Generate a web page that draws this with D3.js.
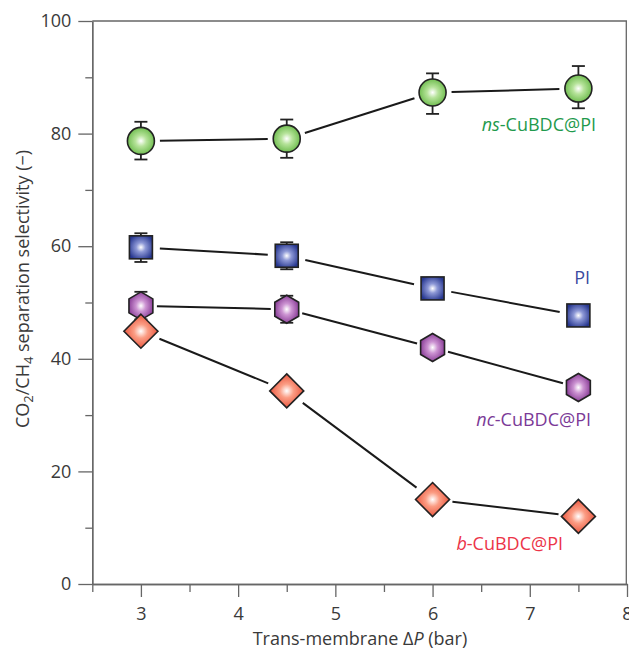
<!DOCTYPE html>
<html>
<head>
<meta charset="utf-8">
<script src="https://d3js.org/d3.v7.min.js"></script>
<style>
  body { margin: 0; background: #fff; }
  text { font-family: 'Open Sans', sans-serif; }
  .axis text { font-size: 18px; fill: #3a3a3a; }
  .axis line, .axis path { stroke: #666; stroke-width: 1.3; }
</style>
</head>
<body>
<script>
// data
var pressure = [3, 4.5, 6, 7.5];
var nsSel = [78.7, 79.1, 87.3, 88.0];
var nsLow = [75.4, 75.7, 83.5, 84.5];
var nsHigh = [82.1, 82.5, 90.7, 92.0];
var piSel = [59.8, 58.3, 52.5, 47.7];
var piLow = [57.2, 55.9, 50.6, 46.9];
var piHigh = [62.3, 60.7, 54.4, 48.5];
var ncSel = [49.4, 48.8, 42.0, 34.9];
var ncLow = [47.0, 46.4, 41.4, 34.3];
var ncHigh = [51.9, 51.2, 42.6, 35.5];
var bSel = [44.9, 34.3, 15.0, 12.0];
var xTicks = [3, 4, 5, 6, 7, 8];
var xMinor = [2.5, 3.5, 4.5, 5.5, 6.5, 7.5];
var yTicks = [0, 20, 40, 60, 80, 100];
var yMinor = [10, 30, 50, 70, 90];

var W = 629, H = 655;
var svg = d3.select("body").append("svg").attr("width", W).attr("height", H);

var x = d3.scaleLinear().domain([2.5, 8]).range([92.3, 627]);
var y = d3.scaleLinear().domain([0, 100]).range([584, 21]);

// gradients
var defs = svg.append("defs");
function grad(id, mid, c) {
  var g = defs.append("radialGradient").attr("id", id)
    .attr("cx", "50%").attr("cy", "50%").attr("r", "58%");
  g.append("stop").attr("offset", "0%").attr("stop-color", "#ffffff");
  g.append("stop").attr("offset", "35%").attr("stop-color", mid);
  g.append("stop").attr("offset", "100%").attr("stop-color", c);
}
grad("gGreen", "#b6e39a", "#5fb43e");
grad("gBlue", "#8d98d6", "#26368f");
grad("gPurple", "#cc93d2", "#7d2d8c");
grad("gRed", "#fb9d84", "#e5432c");

// axes
svg.append("g").attr("class", "axis")
  .attr("transform", "translate(" + x(2.5) + ",0)")
  .call(d3.axisLeft(y).tickValues(yTicks).tickSize(14).tickSizeOuter(0).tickPadding(7));
svg.append("g").attr("class", "axis")
  .attr("transform", "translate(" + x(2.5) + ",0)")
  .call(d3.axisLeft(y).tickValues(yMinor).tickSize(7).tickSizeOuter(0).tickFormat(""));
svg.append("g").attr("class", "axis")
  .attr("transform", "translate(0," + y(0) + ")")
  .call(d3.axisBottom(x).tickValues(xTicks).tickSize(13).tickSizeOuter(0).tickPadding(10)
    .tickFormat(d3.format("d")));
svg.append("g").attr("class", "axis")
  .attr("transform", "translate(0," + y(0) + ")")
  .call(d3.axisBottom(x).tickValues(xMinor).tickSize(8).tickSizeOuter(0).tickFormat(""));

// frame top / right
svg.append("line").attr("x1", x(2.5)).attr("x2", x(8)).attr("y1", y(100)).attr("y2", y(100))
  .attr("stroke", "#666").attr("stroke-width", 1.3);
svg.append("line").attr("x1", x(8) - 0.7).attr("x2", x(8) - 0.7).attr("y1", y(100)).attr("y2", y(0))
  .attr("stroke", "#666").attr("stroke-width", 1.3);

// axis titles
svg.append("text").attr("x", 360).attr("y", 645).attr("text-anchor", "middle")
  .style("font-size", "18px").attr("fill", "#3a3a3a")
  .html("Trans-membrane Δ<tspan font-style='italic'>P</tspan> (bar)");

var yt = svg.append("text").attr("transform", "translate(29,289) rotate(-90)")
  .attr("text-anchor", "middle").style("font-size", "18px").attr("fill", "#3a3a3a");
yt.append("tspan").text("CO");
yt.append("tspan").attr("dy", 4).style("font-size", "13px").text("2");
yt.append("tspan").attr("dy", -4).text("/CH");
yt.append("tspan").attr("dy", 4).style("font-size", "13px").text("4");
yt.append("tspan").attr("dy", -4).text(" separation selectivity (−)");

var series = [
  { vals: nsSel, lo: nsLow, hi: nsHigh, shape: "circle", fill: "url(#gGreen)", gap: 19 },
  { vals: piSel, lo: piLow, hi: piHigh, shape: "square", fill: "url(#gBlue)", gap: 19 },
  { vals: ncSel, lo: ncLow, hi: ncHigh, shape: "hex", fill: "url(#gPurple)", gap: 16 },
  { vals: bSel, lo: null, hi: null, shape: "diamond", fill: "url(#gRed)", gap: 20 }
];

series.forEach(function (s) {
  var pts = pressure.map(function (p, i) { return [x(p), y(s.vals[i])]; });
  // connecting segments with gaps at markers
  for (var i = 0; i < pts.length - 1; i++) {
    var a = pts[i], b = pts[i + 1];
    var dx = b[0] - a[0], dy = b[1] - a[1], len = Math.sqrt(dx * dx + dy * dy);
    var ux = dx / len, uy = dy / len;
    svg.append("line")
      .attr("x1", a[0] + ux * s.gap).attr("y1", a[1] + uy * s.gap)
      .attr("x2", b[0] - ux * s.gap).attr("y2", b[1] - uy * s.gap)
      .attr("stroke", "#1a1a1a").attr("stroke-width", 2);
  }
  // error bars
  if (s.lo) {
    var eb = svg.append("g").attr("stroke", "#222").attr("stroke-width", 1.8);
    pressure.forEach(function (p, i) {
      var cx = x(p);
      eb.append("line").attr("x1", cx).attr("x2", cx).attr("y1", y(s.lo[i])).attr("y2", y(s.hi[i]));
      eb.append("line").attr("x1", cx - 6.5).attr("x2", cx + 6.5).attr("y1", y(s.lo[i])).attr("y2", y(s.lo[i]));
      eb.append("line").attr("x1", cx - 6.5).attr("x2", cx + 6.5).attr("y1", y(s.hi[i])).attr("y2", y(s.hi[i]));
    });
  }
  // markers
  var mg = svg.append("g").attr("stroke", "#222").attr("stroke-width", 1.6).attr("fill", s.fill);
  pts.forEach(function (pt) {
    var cx = pt[0], cy = pt[1];
    if (s.shape === "circle") {
      mg.append("circle").attr("cx", cx).attr("cy", cy).attr("r", 13.5);
    } else if (s.shape === "square") {
      mg.append("rect").attr("x", cx - 11.5).attr("y", cy - 11.5).attr("width", 23).attr("height", 23);
    } else if (s.shape === "hex") {
      var hp = d3.range(6).map(function (k) {
        var ang = Math.PI / 2 + k * Math.PI / 3;
        return [cx + 13.8 * Math.cos(ang), cy + 14 * Math.sin(ang)];
      });
      mg.append("polygon").attr("points", hp.map(function (q) { return q.join(","); }).join(" "));
    } else {
      var r = 17;
      mg.append("polygon").attr("points",
        [[cx, cy - r], [cx + r, cy], [cx, cy + r], [cx - r, cy]].map(function (q) { return q.join(","); }).join(" "));
    }
  });
});

// series labels
function label(xx, yy, anchor, color, ital, rest) {
  var t = svg.append("text").attr("x", xx).attr("y", yy).attr("text-anchor", anchor)
    .style("font-size", "18px").attr("fill", color);
  if (ital) t.append("tspan").attr("font-style", "italic").text(ital);
  t.append("tspan").text(rest);
}
label(596, 131, "end", "#1f9a4d", "ns", "-CuBDC@PI");
label(590, 284, "end", "#3b4ba0", null, "PI");
label(591, 426, "end", "#7b3a97", "nc", "-CuBDC@PI");
label(563, 550, "end", "#ec3448", "b", "-CuBDC@PI");
</script>
</body>
</html>
